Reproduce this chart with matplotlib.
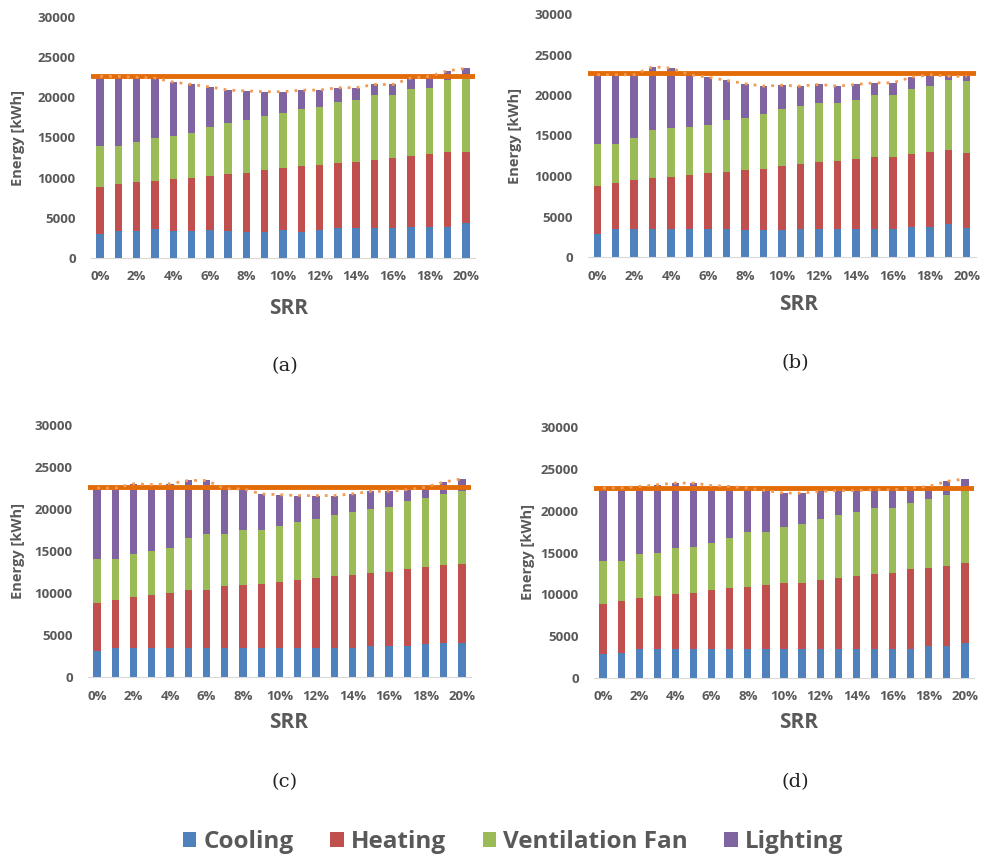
import matplotlib.pyplot as plt
import numpy as np

# ------------------------- # Datos # ------------------------- #
srr = [f"{i}%" for i in range(21)]

cooling_a = [3.0, 3.4, 3.4, 3.6, 3.4, 3.4, 3.5, 3.3, 3.2, 3.2, 3.5, 3.2, 3.5, 3.7, 3.7, 3.7, 3.7, 3.8, 3.8, 3.8, 4.4]
heating_a = [8.8, 9.2, 9.4, 9.6, 9.8, 10.0, 10.2, 10.5, 10.6, 11.0, 11.2, 11.4, 11.6, 11.8, 12.0, 12.2, 12.4, 12.7, 12.9, 13.2, 13.2]
vent_a = [14.0, 13.9, 14.5, 14.9, 15.2, 15.6, 16.3, 16.8, 17.2, 17.7, 18.1, 18.5, 18.8, 19.4, 19.7, 20.3, 20.3, 21.0, 21.2, 22.1, 22.5]
total_a = [22.6, 22.6, 22.5, 22.4, 21.9, 21.6, 21.3, 20.9, 20.8, 20.7, 20.7, 20.9, 20.9, 21.2, 21.2, 21.6, 21.6, 22.4, 22.6, 23.3, 23.6]

cooling_b = [2.9, 3.4, 3.4, 3.5, 3.5, 3.5, 3.4, 3.4, 3.3, 3.3, 3.3, 3.5, 3.5, 3.5, 3.5, 3.5, 3.5, 3.7, 3.7, 4.1, 3.6]
heating_b = [8.8, 9.1, 9.5, 9.8, 9.9, 10.1, 10.4, 10.5, 10.7, 10.9, 11.2, 11.5, 11.7, 11.9, 12.1, 12.3, 12.3, 12.7, 13.0, 13.2, 12.9]
vent_b = [13.9, 13.9, 14.7, 15.7, 15.9, 16.1, 16.3, 16.9, 17.2, 17.6, 18.3, 18.6, 19.0, 19.0, 19.4, 20.0, 20.0, 20.8, 21.1, 21.8, 21.7]
total_b = [22.5, 22.5, 22.5, 23.5, 23.3, 22.5, 22.2, 21.8, 21.4, 21.1, 21.2, 21.1, 21.3, 21.1, 21.3, 21.5, 21.5, 22.2, 22.5, 22.3, 22.3]

cooling_c = [3.1, 3.4, 3.4, 3.4, 3.4, 3.4, 3.4, 3.4, 3.4, 3.4, 3.4, 3.4, 3.4, 3.4, 3.4, 3.7, 3.7, 3.7, 3.9, 4.1, 4.1]
heating_c = [8.8, 9.2, 9.5, 9.8, 10.0, 10.3, 10.4, 10.8, 10.9, 11.1, 11.3, 11.6, 11.8, 12.0, 12.2, 12.4, 12.5, 12.9, 13.1, 13.3, 13.5]
vent_c = [14.0, 14.0, 14.6, 15.0, 15.4, 16.5, 17.0, 17.0, 17.5, 17.5, 18.0, 18.5, 18.8, 19.3, 19.7, 20.0, 20.2, 20.9, 21.3, 21.8, 22.1]
total_c = [22.5, 22.5, 23.0, 22.9, 23.0, 23.4, 23.4, 22.4, 22.4, 21.8, 21.7, 21.6, 21.6, 21.6, 21.8, 22.1, 22.1, 22.3, 22.6, 23.2, 23.6]

cooling_d = [2.9, 3.0, 3.5, 3.5, 3.5, 3.5, 3.5, 3.5, 3.5, 3.5, 3.5, 3.5, 3.5, 3.5, 3.5, 3.5, 3.5, 3.5, 3.8, 3.8, 4.2]
heating_d = [8.8, 9.2, 9.6, 9.8, 10.0, 10.2, 10.5, 10.7, 10.9, 11.1, 11.3, 11.4, 11.7, 12.0, 12.2, 12.4, 12.6, 13.0, 13.1, 13.4, 13.7]
vent_d = [14.0, 14.0, 14.8, 15.0, 15.5, 15.7, 16.1, 16.7, 17.4, 17.4, 18.0, 18.4, 19.0, 19.5, 19.9, 20.3, 20.3, 20.9, 21.4, 21.9, 22.3]
total_d = [22.7, 22.7, 22.9, 23.1, 23.3, 23.3, 23.0, 22.9, 22.7, 22.4, 22.1, 22.1, 22.3, 22.4, 22.4, 22.5, 22.5, 22.7, 22.9, 23.5, 23.8]

baseline = [22.6, 22.7, 22.6, 22.7]  # línea de referencia (miles de kWh)

# ------------------------- # Estilo # ------------------------- #
colores = ['#4F81BD', '#C0504D', '#9BBB59', '#8064A2']
nombres = ['Cooling', 'Heating', 'Ventilation Fan', 'Lighting']
gris = '#595959'
plt.rcParams['font.family'] = ['Open Sans', 'DejaVu Sans']

fig = plt.figure(figsize=(9.87, 8.6), dpi=100)

# posiciones en pixeles: izq, ancho, y del cero, alto, x de "Energy",
# y de "SRR", x/y del rótulo
paneles = [
    (91, 384, 258, 241, 18, 308, 285, 366, cooling_a, heating_a, vent_a, total_a, '(a)'),
    (588, 388, 257, 243, 515, 305, 795, 363, cooling_b, heating_b, vent_b, total_b, '(b)'),
    (88, 383, 677, 252, 18, 722, 285, 782, cooling_c, heating_c, vent_c, total_c, '(c)'),
    (594, 380, 678, 251, 528, 723, 795, 782, cooling_d, heating_d, vent_d, total_d, '(d)'),
]

x = np.arange(len(srr))
for k, (izq, ancho, y0, alto, xen, ysrr, xcap, ycap, co, he, ve, to, etiqueta) in enumerate(paneles):
    ax = fig.add_axes([izq / 987, (860 - y0) / 860, ancho / 987, alto / 860])
    co = np.array(co) * 1000
    he = np.array(he) * 1000
    ve = np.array(ve) * 1000
    to = np.array(to) * 1000
    capas = [co, he - co, ve - he, to - ve]
    base = np.zeros(len(x))
    barras = []
    for capa, color in zip(capas, colores):
        b = ax.bar(x, capa, bottom=base, width=0.4, color=color, zorder=2)
        barras.append(b)
        base = base + capa

    # línea base y tendencia del total
    ax.plot([-0.45, 20.45], [baseline[k] * 1000] * 2, color='#E36C09', lw=3.5, zorder=4)
    ax.plot(x, to, color='#F29A54', lw=2, ls=(0, (1, 2.2)), zorder=5)

    ax.set_xlim(-0.5, 20.5)
    ax.set_ylim(0, 30000)
    ax.set_yticks(range(0, 30001, 5000))
    ax.set_xticks(x[::2])
    ax.set_xticklabels(srr[::2])
    for lado in ['top', 'right', 'left']:
        ax.spines[lado].set_visible(False)
    ax.spines['bottom'].set_color('#D9D9D9')
    ax.tick_params(axis='y', length=0, labelsize=9.5, labelcolor=gris, pad=11)
    ax.tick_params(axis='x', length=0, labelsize=9.5, labelcolor=gris, pad=9)
    for t in ax.get_xticklabels() + ax.get_yticklabels():
        t.set_fontweight('bold')
    ax.set_ylabel('Energy [kWh]', fontsize=10.5, color=gris, fontweight='bold')
    ax.yaxis.set_label_coords(-(izq - xen) / ancho, 0.5)
    ax.yaxis.label.set_va('center')
    ax.set_xlabel('SRR', fontsize=15, color=gris, fontweight='bold')
    ax.xaxis.set_label_coords((xcap + 4 - izq) / ancho, -(ysrr - y0) / alto)
    ax.xaxis.label.set_va('center')

    fig.text(xcap / 987, 1 - ycap / 860, etiqueta, ha='center', va='center',
             fontsize=14, family='DejaVu Serif', color='#222222')

# leyenda común
fig.legend(barras, nombres, loc='center', bbox_to_anchor=(0.52, 0.021), ncol=4,
           frameon=False, handlelength=0.55, handleheight=0.55,
           handletextpad=0.3, columnspacing=1.5,
           prop={'weight': 'bold', 'size': 17.5})
for t in fig.legends[0].get_texts():
    t.set_color(gris)

fig.savefig('out.png', dpi=100)
